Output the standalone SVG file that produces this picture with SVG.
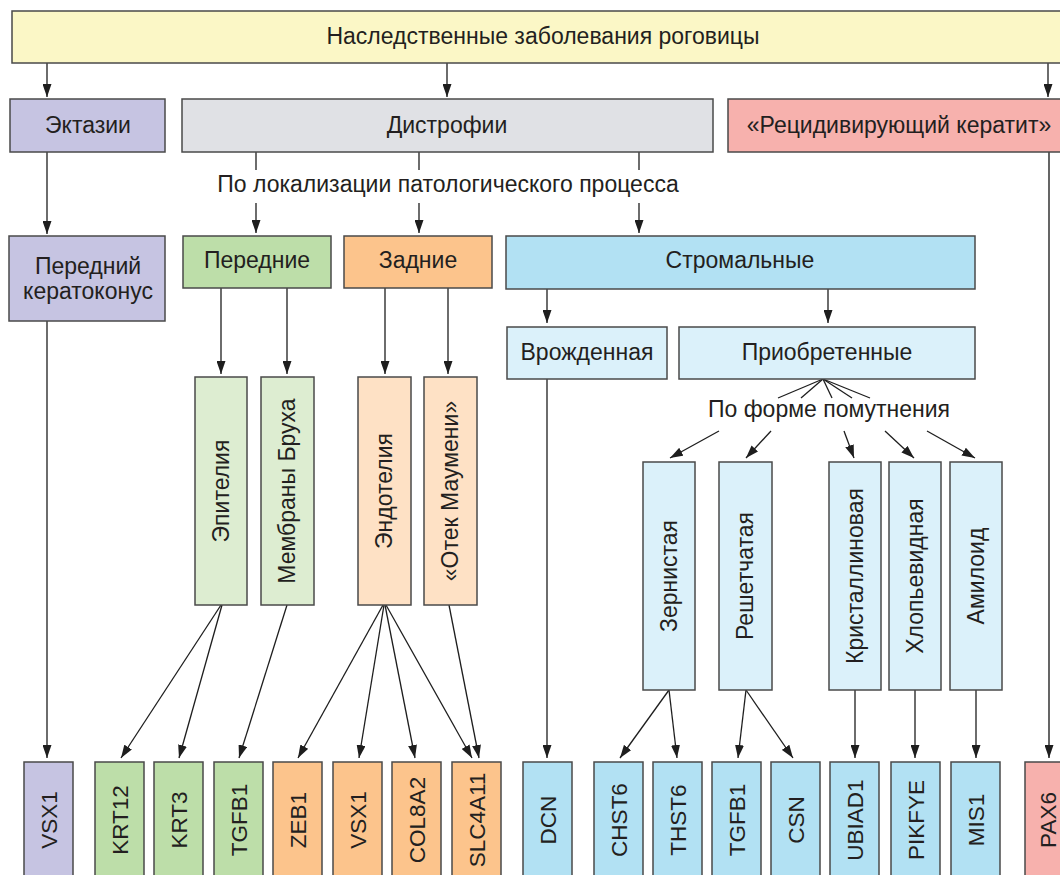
<svg xmlns="http://www.w3.org/2000/svg" width="1060" height="875" viewBox="0 0 1060 875">
<defs>
<marker id="ah" markerUnits="userSpaceOnUse" markerWidth="13" markerHeight="9" viewBox="0 0 13 9" refX="13" refY="4.5" orient="auto">
<path d="M0,0 L13,4.5 L0,9 Z" fill="#1e1e1e"/>
</marker>
<style>
.b{stroke:#4a4a4a;stroke-width:1.5}
.t{font-family:"Liberation Sans",Arial,sans-serif;font-size:23px;fill:#231f20;text-anchor:middle}
.g{font-size:22.5px}
.c line{stroke:#1e1e1e;stroke-width:1.3;fill:none}
.a{marker-end:url(#ah)}
.yel{fill:#fbf7c6}.pur{fill:#c6c4e2}.gry{fill:#e0e1e5}.pnk{fill:#f7b1ad}
.grn{fill:#bddea9}.lgrn{fill:#ddedd1}.org{fill:#fcc48c}.lorg{fill:#fee1c5}
.blu{fill:#b2e1f3}.lblu{fill:#dbf1fa}
</style>
</defs>
<rect width="1060" height="875" fill="#ffffff"/>

<g class="c" id="connectors">
<line class="a" x1="47" y1="63" x2="47" y2="97"/>
<line class="a" x1="447" y1="63" x2="447" y2="97"/>
<line class="a" x1="1048" y1="63" x2="1048" y2="97"/>
<line class="a" x1="47" y1="152" x2="47" y2="234"/>
<line x1="256" y1="152" x2="256" y2="170"/>
<line x1="419" y1="152" x2="419" y2="170"/>
<line x1="639" y1="152" x2="639" y2="170"/>
<line class="a" x1="256" y1="203" x2="256" y2="233"/>
<line class="a" x1="419" y1="203" x2="419" y2="233"/>
<line class="a" x1="639" y1="203" x2="639" y2="233"/>
<line class="a" x1="1049" y1="152" x2="1049" y2="758" style="stroke:#555;stroke-width:1.8"/>
<line class="a" x1="221" y1="288" x2="221" y2="374"/>
<line class="a" x1="287" y1="288" x2="287" y2="374"/>
<line class="a" x1="385" y1="288" x2="385" y2="374"/>
<line class="a" x1="448" y1="288" x2="448" y2="374"/>
<line class="a" x1="547" y1="289" x2="547" y2="323"/>
<line class="a" x1="828" y1="289" x2="828" y2="323"/>
<line x1="823" y1="379" x2="778" y2="398"/>
<line x1="823" y1="379" x2="801" y2="398"/>
<line x1="823" y1="379" x2="832" y2="398"/>
<line x1="823" y1="379" x2="852" y2="398"/>
<line x1="823" y1="379" x2="870" y2="398"/>
<line class="a" x1="719" y1="431" x2="670" y2="458"/>
<line class="a" x1="771" y1="431" x2="746" y2="458"/>
<line class="a" x1="844" y1="431" x2="854" y2="458"/>
<line class="a" x1="885" y1="431" x2="914" y2="458"/>
<line class="a" x1="927" y1="431" x2="975" y2="458"/>
<line class="a" x1="47" y1="321" x2="47" y2="758"/>
<line class="a" x1="221" y1="605" x2="121" y2="758"/>
<line class="a" x1="222" y1="605" x2="179" y2="758"/>
<line class="a" x1="287" y1="605" x2="239" y2="758"/>
<line class="a" x1="383" y1="605" x2="298" y2="758"/>
<line class="a" x1="384" y1="605" x2="359" y2="758"/>
<line class="a" x1="385" y1="605" x2="415" y2="758"/>
<line class="a" x1="386" y1="605" x2="472" y2="758"/>
<line class="a" x1="449" y1="605" x2="479" y2="758"/>
<line class="a" x1="547" y1="379" x2="547" y2="758"/>
<line class="a" x1="669" y1="690" x2="620" y2="758"/>
<line class="a" x1="669" y1="690" x2="677" y2="758"/>
<line class="a" x1="746" y1="690" x2="738" y2="758"/>
<line class="a" x1="746" y1="690" x2="793" y2="758"/>
<line class="a" x1="855" y1="690" x2="855" y2="758"/>
<line class="a" x1="915" y1="690" x2="915" y2="758"/>
<line class="a" x1="976" y1="690" x2="976" y2="758"/>
</g>

<g id="root"><rect class="b yel" x="12" y="11" width="1064" height="52"/><text class="t" x="543" y="44">Наследственные заболевания роговицы</text></g>
<g id="ektazii"><rect class="b pur" x="10" y="99" width="155" height="53"/><text class="t" x="88" y="133">Эктазии</text></g>
<g id="distrofii"><rect class="b gry" x="182" y="99" width="531" height="53"/><text class="t" x="447" y="133">Дистрофии</text></g>
<g id="recid"><rect class="b pnk" x="728" y="99" width="344" height="53"/><text class="t" x="899" y="133">«Рецидивирующий кератит»</text></g>
<g id="lbl-lok"><text class="t" x="448" y="192">По локализации патологического процесса</text></g>

<g id="keratokonus"><rect class="b pur" x="9" y="236" width="156" height="85"/><text class="t" x="88" y="274">Передний</text><text class="t" x="88" y="299">кератоконус</text></g>
<g id="perednie"><rect class="b grn" x="183" y="236" width="148" height="52"/><text class="t" x="257" y="268">Передние</text></g>
<g id="zadnie"><rect class="b org" x="344" y="236" width="148" height="52"/><text class="t" x="418" y="268">Задние</text></g>
<g id="stromal"><rect class="b blu" x="506" y="236" width="469" height="53"/><text class="t" x="740" y="268">Стромальные</text></g>
<g id="vrozh"><rect class="b lblu" x="507" y="327" width="160" height="52"/><text class="t" x="587" y="360">Врожденная</text></g>
<g id="priobr"><rect class="b lblu" x="679" y="327" width="296" height="52"/><text class="t" x="827" y="360">Приобретенные</text></g>
<g id="lbl-form"><text class="t" x="829" y="417">По форме помутнения</text></g>

<g id="epitel"><rect class="b lgrn" x="195" y="377" width="52" height="228"/><text class="t" transform="translate(229,491) rotate(-90)">Эпителия</text></g>
<g id="bruch"><rect class="b lgrn" x="261" y="377" width="53" height="228"/><text class="t" transform="translate(295,491) rotate(-90)">Мембраны Бруха</text></g>
<g id="endotel"><rect class="b lorg" x="358" y="377" width="53" height="228"/><text class="t" transform="translate(392,491) rotate(-90)">Эндотелия</text></g>
<g id="maumeni"><rect class="b lorg" x="424" y="377" width="53" height="228"/><text class="t" transform="translate(458,491) rotate(-90)">«Отек Маумени»</text></g>

<g id="zern"><rect class="b lblu" x="643" y="462" width="52" height="228"/><text class="t" transform="translate(677,576) rotate(-90)">Зернистая</text></g>
<g id="reshet"><rect class="b lblu" x="719" y="462" width="53" height="228"/><text class="t" transform="translate(753,576) rotate(-90)">Решетчатая</text></g>
<g id="krist"><rect class="b lblu" x="829" y="462" width="52" height="228"/><text class="t" transform="translate(863,576) rotate(-90)">Кристаллиновая</text></g>
<g id="hlop"><rect class="b lblu" x="889" y="462" width="52" height="228"/><text class="t" transform="translate(923,576) rotate(-90)">Хлопьевидная</text></g>
<g id="amiloid"><rect class="b lblu" x="950" y="462" width="52" height="228"/><text class="t" transform="translate(984,576) rotate(-90)">Амилоид</text></g>

<g id="g-vsx1a"><rect class="b pur" x="24" y="762" width="49" height="120"/><text class="t g" transform="translate(57,820) rotate(-90)">VSX1</text></g>
<g id="g-krt12"><rect class="b grn" x="95" y="762" width="49" height="120"/><text class="t g" transform="translate(128,820) rotate(-90)">KRT12</text></g>
<g id="g-krt3"><rect class="b grn" x="154" y="762" width="49" height="120"/><text class="t g" transform="translate(187,820) rotate(-90)">KRT3</text></g>
<g id="g-tgfb1a"><rect class="b grn" x="214" y="762" width="49" height="120"/><text class="t g" transform="translate(247,820) rotate(-90)">TGFB1</text></g>
<g id="g-zeb1"><rect class="b org" x="273" y="762" width="49" height="120"/><text class="t g" transform="translate(306,820) rotate(-90)">ZEB1</text></g>
<g id="g-vsx1b"><rect class="b org" x="333" y="762" width="49" height="120"/><text class="t g" transform="translate(366,820) rotate(-90)">VSX1</text></g>
<g id="g-col8a2"><rect class="b org" x="392" y="762" width="49" height="120"/><text class="t g" transform="translate(425,820) rotate(-90)">COL8A2</text></g>
<g id="g-slc4a11"><rect class="b org" x="452" y="762" width="49" height="120"/><text class="t g" transform="translate(485,820) rotate(-90)">SLC4A11</text></g>
<g id="g-dcn"><rect class="b blu" x="523" y="762" width="49" height="120"/><text class="t g" transform="translate(556,820) rotate(-90)">DCN</text></g>
<g id="g-chst6"><rect class="b blu" x="594" y="762" width="49" height="120"/><text class="t g" transform="translate(627,820) rotate(-90)">CHST6</text></g>
<g id="g-thst6"><rect class="b blu" x="653" y="762" width="49" height="120"/><text class="t g" transform="translate(686,820) rotate(-90)">THST6</text></g>
<g id="g-tgfb1b"><rect class="b blu" x="712" y="762" width="49" height="120"/><text class="t g" transform="translate(745,820) rotate(-90)">TGFB1</text></g>
<g id="g-csn"><rect class="b blu" x="771" y="762" width="49" height="120"/><text class="t g" transform="translate(804,820) rotate(-90)">CSN</text></g>
<g id="g-ubiad1"><rect class="b blu" x="830" y="762" width="49" height="120"/><text class="t g" transform="translate(863,820) rotate(-90)">UBIAD1</text></g>
<g id="g-pikfye"><rect class="b blu" x="891" y="762" width="49" height="120"/><text class="t g" transform="translate(924,820) rotate(-90)">PIKFYE</text></g>
<g id="g-mis1"><rect class="b blu" x="951" y="762" width="49" height="120"/><text class="t g" transform="translate(984,820) rotate(-90)">MIS1</text></g>
<g id="g-pax6"><rect class="b pnk" x="1025" y="762" width="50" height="120"/><text class="t g" transform="translate(1056,820) rotate(-90)">PAX6</text></g>
</svg>
